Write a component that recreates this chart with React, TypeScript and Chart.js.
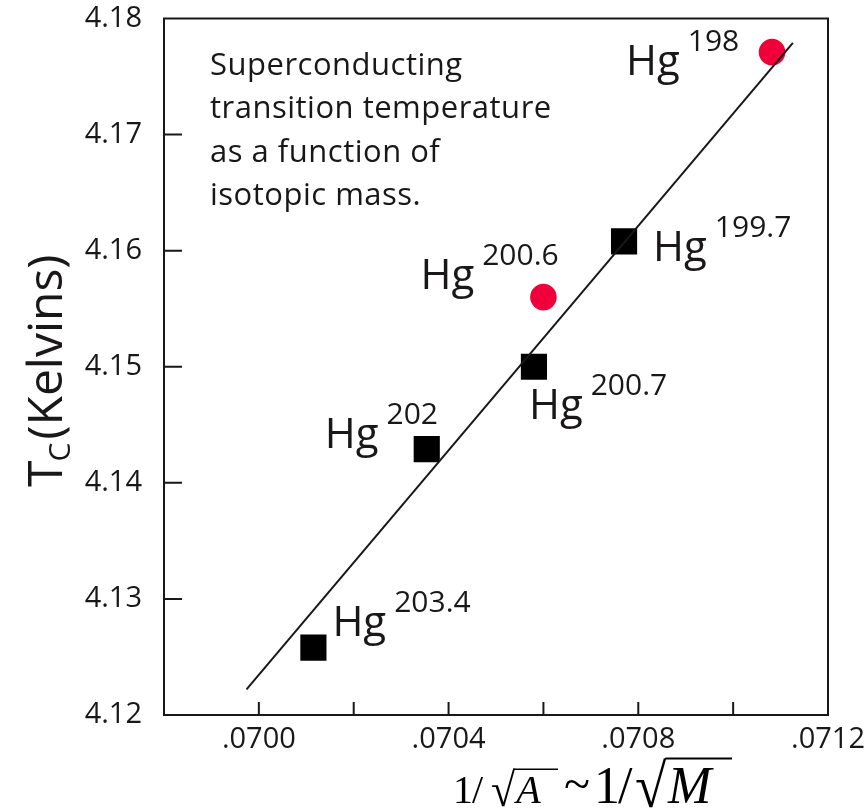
import React, { useEffect, useRef } from 'react';
import { Chart, registerables } from 'chart.js';

Chart.register(...registerables);

// ---- data ----
const ELEMENT = 'Hg';
const SQUARE_X = [0.07077, 0.07058, 0.070354, 0.070115];
const SQUARE_Y = [4.1608, 4.15, 4.1429, 4.1258];
const SQUARE_MASS = ['199.7', '200.7', '202', '203.4'];
const CIRCLE_X = [0.071082, 0.0706];
const CIRCLE_Y = [4.1771, 4.156];
const CIRCLE_MASS = ['198', '200.6'];
const FIT_X = [0.069974, 0.071126];
const FIT_Y = [4.1222, 4.1779];
const X_TICKS = [0.07, 0.0704, 0.0708, 0.0712];
const X_MINOR = [0.07, 0.0702, 0.0704, 0.0706, 0.0708, 0.071];
const Y_TICKS = [4.12, 4.13, 4.14, 4.15, 4.16, 4.17, 4.18];
const NOTE_LINES = ['Superconducting', 'transition temperature', 'as a function of', 'isotopic mass.'];

// ---- layout (label placement relative to its point, in px) ----
const SQUARE_LABEL_OFFSET = [[29, 20], [-5, 52], [-102, -1], [19, -12]];
const CIRCLE_LABEL_OFFSET = [[-146, 23], [-123, -8]];

const INK = '#1a1718';
const SANS = '"Open Sans", sans-serif';
const SERIF = '"Liberation Serif", serif';
const W = 500;

const overlay = {
  id: 'overlay',
  afterDraw(chart: any) {
    const { ctx, chartArea: a, scales } = chart;
    const x = scales.x;
    const y = scales.y;
    ctx.save();
    // frame
    ctx.strokeStyle = INK;
    ctx.lineWidth = 2;
    ctx.strokeRect(a.left, a.top, a.right - a.left, a.bottom - a.top);
    // inward ticks
    ctx.beginPath();
    X_MINOR.forEach((v) => {
      const px = x.getPixelForValue(v);
      ctx.moveTo(px, a.bottom);
      ctx.lineTo(px, a.bottom - 13);
    });
    Y_TICKS.slice(1, -1).forEach((v) => {
      const py = y.getPixelForValue(v);
      ctx.moveTo(a.left, py);
      ctx.lineTo(a.left + 18, py);
    });
    ctx.stroke();

    // isotope labels
    ctx.fillStyle = INK;
    ctx.textBaseline = 'alphabetic';
    ctx.textAlign = 'left';
    const iso = (vx: number, vy: number, off: number[], mass: string) => {
      const bx = x.getPixelForValue(vx) + off[0];
      const by = y.getPixelForValue(vy) + off[1];
      ctx.font = `${W} 42px ${SANS}`;
      ctx.fillText(ELEMENT, bx, by);
      const w = ctx.measureText(ELEMENT).width;
      ctx.font = `${W} 30px ${SANS}`;
      ctx.fillText(mass, bx + w + 8, by - 24);
    };
    SQUARE_X.forEach((v, i) => iso(v, SQUARE_Y[i], SQUARE_LABEL_OFFSET[i], SQUARE_MASS[i]));
    CIRCLE_X.forEach((v, i) => iso(v, CIRCLE_Y[i], CIRCLE_LABEL_OFFSET[i], CIRCLE_MASS[i]));

    // note
    ctx.font = `${W} 31px ${SANS}`;
    (ctx as any).letterSpacing = '0.5px';
    NOTE_LINES.forEach((t, i) => ctx.fillText(t, 210, 75 + i * 43.3));
    (ctx as any).letterSpacing = '0px';

    // y title (rotated)
    ctx.save();
    ctx.translate(62, 487);
    ctx.rotate(-Math.PI / 2);
    ctx.font = `${W} 48px ${SANS}`;
    ctx.fillText('T', 0, 0);
    let cx = ctx.measureText('T').width;
    ctx.font = `${W} 30px ${SANS}`;
    ctx.fillText('C', cx - 1, 8);
    cx += ctx.measureText('C').width + 2;
    ctx.font = `${W} 48px ${SANS}`;
    ctx.fillText('(Kelvins)', cx, 0);
    ctx.restore();

    // x title: 1/√A ~1/√M
    ctx.fillStyle = '#000';
    ctx.strokeStyle = '#000';
    const radical = (sx: number, base: number, size: number, letter: string, endX: number) => {
      ctx.font = `${size}px ${SERIF}`;
      ctx.save();
      ctx.translate(sx, base + size * 0.08);
      ctx.scale(1.1, 1.18);
      ctx.fillText('\u221A', 0, 0);
      ctx.restore();
      const m = ctx.measureText('\u221A');
      const topY = base + size * 0.08 - m.actualBoundingBoxAscent * 1.18;
      const rx = sx + m.actualBoundingBoxRight * 1.1;
      ctx.font = `italic ${size}px ${SERIF}`;
      ctx.fillText(letter, rx + 1, base);
      ctx.lineWidth = Math.max(1.5, size / 28);
      ctx.beginPath();
      ctx.moveTo(rx - 1.5, topY + ctx.lineWidth / 2);
      ctx.lineTo(endX, topY + ctx.lineWidth / 2);
      ctx.stroke();
    };
    ctx.font = `40px ${SERIF}`;
    ctx.fillText('1', 453, 803);
    ctx.fillText('/', 472, 803);
    radical(491, 803, 40, 'A', 558);
    ctx.font = `48px ${SERIF}`;
    ctx.fillText('~', 564, 800);
    ctx.font = `52px ${SERIF}`;
    ctx.fillText('1', 594, 803);
    ctx.fillText('/', 618, 803);
    radical(635, 803, 52, 'M', 732);
    ctx.restore();
  },
};

export default function App() {
  const ref = useRef<HTMLCanvasElement | null>(null);
  useEffect(() => {
    if (!ref.current) return;
    const chart = new Chart(ref.current, {
      type: 'scatter',
      data: {
        datasets: [
          {
            label: 'fit',
            data: FIT_X.map((v, i) => ({ x: v, y: FIT_Y[i] })),
            showLine: true,
            borderColor: INK,
            borderWidth: 2,
            pointRadius: 0,
            order: 0,
          },
          {
            label: 'squares',
            data: SQUARE_X.map((v, i) => ({ x: v, y: SQUARE_Y[i] })),
            pointStyle: 'rect',
            pointRadius: 18.5,
            backgroundColor: '#000',
            borderColor: '#000',
            borderWidth: 0,
            order: 1,
          },
          {
            label: 'circles',
            data: CIRCLE_X.map((v, i) => ({ x: v, y: CIRCLE_Y[i] })),
            pointStyle: 'circle',
            pointRadius: 13.3,
            backgroundColor: '#f0003a',
            borderColor: '#f0003a',
            borderWidth: 0,
            order: 2,
          },
        ],
      },
      options: {
        animation: false,
        responsive: false,
        events: [],
        layout: { padding: { top: 17, right: 38, left: 0, bottom: 0 } },
        plugins: { legend: { display: false }, tooltip: { enabled: false } },
        scales: {
          x: {
            type: 'linear',
            min: 0.0698,
            max: 0.0712,
            grid: { display: false, drawTicks: false },
            border: { display: false },
            afterBuildTicks: (s: any) => {
              s.ticks = X_TICKS.map((v) => ({ value: v }));
            },
            afterFit: (s: any) => {
              s.height = 95;
              s.paddingLeft = 0;
              s.paddingRight = 0;
            },
            ticks: {
              padding: 7,
              maxRotation: 0,
              autoSkip: false,
              color: INK,
              font: { family: 'Open Sans', size: 29, weight: W },
              callback: (v: any) => Number(v).toFixed(4).replace(/^0/, ''),
            },
          },
          y: {
            type: 'linear',
            min: 4.12,
            max: 4.18,
            grid: { display: false, drawTicks: false },
            border: { display: false },
            afterBuildTicks: (s: any) => {
              s.ticks = Y_TICKS.map((v) => ({ value: v }));
            },
            afterFit: (s: any) => {
              s.width = 164;
              s.paddingTop = 0;
              s.paddingBottom = 0;
            },
            ticks: {
              padding: 22,
              autoSkip: false,
              color: INK,
              font: { family: 'Open Sans', size: 29, weight: W },
              callback: (v: any) => Number(v).toFixed(2),
            },
          },
        },
      },
      plugins: [overlay],
    });
    return () => chart.destroy();
  }, []);
  return (
    <div style={{ position: 'absolute', left: 0, top: 0, width: 866, height: 810, background: '#fff' }}>
      <canvas ref={ref} width={866} height={810} />
    </div>
  );
}
